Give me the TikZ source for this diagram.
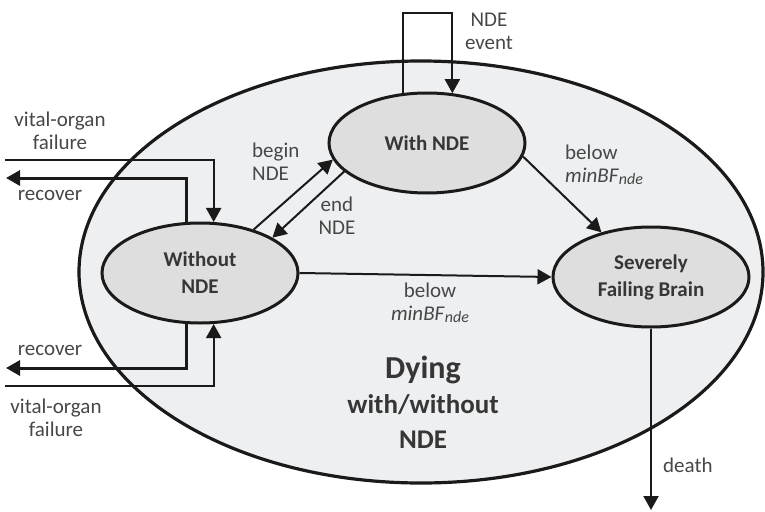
\documentclass[tikz,border=0pt]{standalone}
\usepackage{fontspec}
\setmainfont{Carlito}
\usetikzlibrary{arrows.meta,shapes.geometric}
\definecolor{bigfill}{HTML}{EDEFF1}
\definecolor{nodefill}{HTML}{DEDEDE}
\definecolor{ink}{HTML}{1A1A1A}
\definecolor{labelgray}{HTML}{474747}
\definecolor{ntext}{HTML}{363636}
\newcommand{\minbf}{\textit{minBF}\raisebox{-1.5pt}{\fontsize{16}{16}\selectfont\itshape nde}}
\begin{document}
\begin{tikzpicture}[x=1pt,y=-1pt,
  state/.style={ellipse, draw=ink, line width=3pt, fill=nodefill,
    minimum width=196pt, minimum height=100pt, inner sep=0pt, align=center,
    text=ntext, font=\fontsize{21}{27}\selectfont\bfseries},
  edgelabel/.style={text=labelgray, font=\fontsize{21}{23}\selectfont, inner sep=0pt},
  bigtext/.style={text=ntext, inner sep=0pt},
  conn/.style={draw=ink, line width=2pt, -{Triangle[length=14pt,width=15pt]}},
  heavyconn/.style={conn, line width=3pt}]
\useasboundingbox (0,0) rectangle (765,511);
% outer state
\draw[draw=ink, line width=3.2pt, fill=bigfill] (421,272) ellipse [x radius=342, y radius=211];
% states
\node[state] (wn) at (427,143) {With NDE};
\node[state] (wo) at (200,273) {Without\\NDE};
\node[state] (sfb) at (651,277) {Severely\\Failing Brain};
% free ends
\coordinate (vin1) at (5,160);
\coordinate (rec1) at (6,178);
\coordinate (rec2) at (6,368);
\coordinate (vin2) at (5,386);
\coordinate (looptop) at (427,13);
\coordinate (deathend) at (652,510);
% connectors
\draw[conn] (vin1) -| (wo.75);
\draw[heavyconn] (wo.105) |- (rec1);
\draw[heavyconn] (wo.-105) |- (rec2);
\draw[conn] (vin2) -| (wo.-75);
\draw[conn] (wn.116) |- (looptop) -| (wn.63);
\draw[conn] (wo.39) -- (wn.190);
\draw[conn] (wn.199) -- (wo.26);
\draw[conn] (wn.-8) -- (sfb.138);
\draw[conn] (wo.east) -- (sfb.west);
\draw[conn] (sfb.south) -- (sfb.south |- deathend);
% labels
\node[edgelabel, align=center] (lvo1) at (60,131) {vital-organ\\failure};
\node[edgelabel] (lrec1) at (50,195) {recover};
\node[edgelabel] (lrec2) at (50,350) {recover};
\node[edgelabel, align=center] (lvo2) at (56,418) {vital-organ\\failure};
\node[edgelabel, align=center] (lev) at (489,31) {NDE\\event};
\node[edgelabel, align=left, anchor=west] (lbeg) at (252,162) {begin\\NDE};
\node[edgelabel, align=center] (lend) at (337,216) {end\\NDE};
\node[edgelabel, align=left, anchor=west] (lb1) at (565,165) {below\\\minbf};
\node[edgelabel, align=center] (lb2) at (430,303) {below\\\minbf};
\node[edgelabel, anchor=west] (ldeath) at (663,465) {death};
% title
\node[bigtext, font=\fontsize{32}{34}\selectfont\bfseries] (t1) at (423,370) {Dying};
\node[bigtext, font=\fontsize{27}{30}\selectfont\bfseries] (t2) at (423,405) {with/without};
\node[bigtext, font=\fontsize{27}{30}\selectfont\bfseries] (t3) at (423,440) {NDE};
\end{tikzpicture}
\end{document}
